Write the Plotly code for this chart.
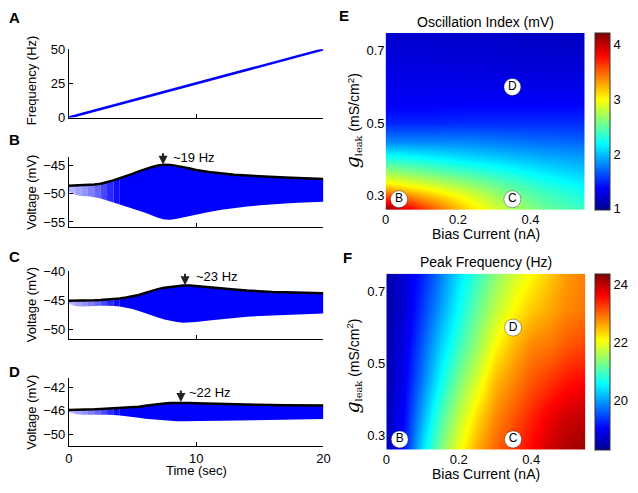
import plotly.graph_objects as go

W, H = 638, 493
FONT = "Arial, Liberation Sans, sans-serif"

# ---------------- data ----------------
# Panel A: stimulus frequency ramp
t_freq = [0, 20]
freq_hz = [0, 50]

# Panels B-D: voltage envelopes (mV)
t_env = [0, 0.5, 1, 1.5, 2, 2.5, 3, 3.5, 4, 4.5, 5, 5.5, 6, 6.5, 7, 7.5, 8, 8.5,
         9, 9.5, 10, 11, 12, 13, 14, 15, 16, 17, 18, 19, 20]

b_upper = [-48.55, -48.5, -48.5, -48.45, -48.35, -48.2, -47.95, -47.6, -47.2, -46.85,
           -46.45, -46.0, -45.6, -45.25, -44.95, -44.82, -44.85, -45.0, -45.25, -45.5,
           -45.75, -46.1, -46.4, -46.6, -46.75, -46.9, -47.0, -47.1, -47.2, -47.28, -47.35]
b_lower = [-49.6, -50.2, -50.4, -50.45, -50.6, -50.85, -51.2, -51.55, -51.9, -52.25,
           -52.6, -52.95, -53.35, -53.8, -54.25, -54.55, -54.6, -54.45, -54.2, -53.95,
           -53.7, -53.25, -52.85, -52.5, -52.25, -52.05, -51.85, -51.7, -51.6, -51.5, -51.4]

c_upper = [-45.1, -45.1, -45.08, -45.05, -45.0, -44.95, -44.9, -44.8, -44.7, -44.55,
           -44.35, -44.1, -43.75, -43.4, -43.1, -42.85, -42.7, -42.58, -42.5, -42.5,
           -42.58, -42.8, -43.0, -43.15, -43.35, -43.5, -43.6, -43.65, -43.7, -43.75, -43.8]
c_lower = [-45.6, -46.0, -46.1, -46.05, -46.0, -45.95, -45.95, -46.0, -46.1, -46.3,
           -46.5, -46.85, -47.25, -47.6, -47.95, -48.3, -48.55, -48.75, -48.85, -48.85,
           -48.75, -48.5, -48.25, -48.05, -47.85, -47.7, -47.6, -47.5, -47.42, -47.35, -47.3]

d_upper = [-45.85, -45.85, -45.82, -45.8, -45.75, -45.7, -45.65, -45.6, -45.55, -45.5,
           -45.42, -45.3, -45.12, -44.95, -44.83, -44.73, -44.68, -44.65, -44.65, -44.67,
           -44.7, -44.77, -44.85, -44.9, -44.95, -45.0, -45.02, -45.05, -45.07, -45.09, -45.1]
d_lower = [-46.2, -46.55, -46.65, -46.65, -46.65, -46.65, -46.68, -46.72, -46.8, -46.9,
           -47.05, -47.2, -47.35, -47.45, -47.58, -47.7, -47.75, -47.8, -47.8, -47.78,
           -47.75, -47.7, -47.63, -47.58, -47.53, -47.48, -47.45, -47.43, -47.42, -47.41, -47.4]

peak_labels = ["~19 Hz", "~23 Hz", "~22 Hz"]
peak_t = [7.4, 9.13, 8.8]
peak_v = [-44.83, -42.43, -44.5]

# Panel E: oscillation index (mV)
e_bias = [0, 0.11, 0.22, 0.33, 0.44, 0.55]
e_gleak = [0.26, 0.28, 0.30, 0.33, 0.36, 0.40, 0.45, 0.50, 0.55, 0.60, 0.65, 0.70, 0.75]
e_index = [
    [4.20, 3.65, 3.15, 2.80, 2.55, 2.38],
    [3.90, 3.45, 3.05, 2.72, 2.48, 2.32],
    [3.55, 3.22, 2.92, 2.62, 2.42, 2.27],
    [3.10, 2.90, 2.70, 2.48, 2.30, 2.17],
    [2.75, 2.60, 2.45, 2.30, 2.16, 2.05],
    [2.32, 2.22, 2.12, 2.04, 1.96, 1.90],
    [1.80, 1.80, 1.80, 1.76, 1.72, 1.70],
    [1.50, 1.50, 1.52, 1.52, 1.52, 1.52],
    [1.37, 1.37, 1.38, 1.38, 1.38, 1.39],
    [1.32, 1.32, 1.32, 1.31, 1.31, 1.31],
    [1.28, 1.28, 1.27, 1.26, 1.25, 1.25],
    [1.25, 1.24, 1.23, 1.22, 1.21, 1.20],
    [1.22, 1.21, 1.20, 1.19, 1.18, 1.17],
]

# Panel F: peak frequency (Hz)
f_bias = [0, 0.05, 0.10, 0.15, 0.20, 0.25, 0.30, 0.35, 0.40, 0.45, 0.50, 0.55]
f_gleak = [0.26, 0.35, 0.45, 0.55, 0.65, 0.75]
f_peak = [
    [18.6, 19.2, 20.4, 21.3, 22.0, 22.6, 23.0, 23.3, 23.6, 23.9, 24.1, 24.2],
    [18.6, 19.1, 20.1, 21.0, 21.7, 22.3, 22.8, 23.1, 23.4, 23.7, 23.9, 24.0],
    [18.5, 19.0, 19.8, 20.6, 21.3, 21.9, 22.5, 22.8, 23.1, 23.3, 23.5, 23.6],
    [18.5, 18.9, 19.6, 20.3, 20.9, 21.5, 22.1, 22.5, 22.8, 22.9, 23.1, 23.2],
    [18.45, 18.8, 19.4, 20.0, 20.6, 21.2, 21.7, 22.1, 22.4, 22.6, 22.8, 22.9],
    [18.45, 18.8, 19.25, 19.8, 20.4, 20.9, 21.4, 21.8, 22.1, 22.4, 22.7, 22.85],
]

marker_names = ["B", "C", "D"]
marker_bias = [0.037, 0.35, 0.35]
marker_gleak = [0.289, 0.289, 0.60]

# ---------------- helpers ----------------
def px(x):
    return x / W

def py(y):
    return 1 - y / H

jet = [[0, "rgb(0,0,143)"], [0.125, "rgb(0,0,255)"], [0.375, "rgb(0,255,255)"],
       [0.625, "rgb(255,255,0)"], [0.875, "rgb(255,0,0)"], [1, "rgb(128,0,0)"]]

fig = go.Figure()

# Panel A
fig.add_trace(go.Scatter(x=t_freq, y=freq_hz, mode="lines", xaxis="x", yaxis="y",
                         line=dict(color="#0000ff", width=2.5), cliponaxis=False,
                         showlegend=False, hoverinfo="skip"))

# Panels B-D (early low-frequency cycles drawn as a lighter, gradually denser band)
alphas = [0.3, 0.36, 0.42, 0.5, 0.6, 0.72, 0.84, 0.94, 1.0]
segments = [(i * 0.5, (i + 1) * 0.5, a) for i, a in enumerate(alphas[:-1])]
segments.append((len(alphas[:-1]) * 0.5, 20, 1.0))
for k, (up, lo) in enumerate([(b_upper, b_lower), (c_upper, c_lower), (d_upper, d_lower)]):
    xa, ya = "x%d" % (k + 2), "y%d" % (k + 2)
    for (s0, s1, alpha) in segments:
        idx = [i for i, t in enumerate(t_env) if s0 <= t <= s1]
        ts = [t_env[i] for i in idx]
        fig.add_trace(go.Scatter(x=ts, y=[lo[i] for i in idx], mode="lines", xaxis=xa, yaxis=ya,
                                 line=dict(width=0, color="#0000ff"), showlegend=False,
                                 hoverinfo="skip"))
        fig.add_trace(go.Scatter(x=ts, y=[up[i] for i in idx], mode="lines", xaxis=xa, yaxis=ya,
                                 line=dict(width=0, color="#0000ff"), fill="tonexty",
                                 fillcolor="rgba(0,0,255,%s)" % alpha, showlegend=False,
                                 hoverinfo="skip"))
    fig.add_trace(go.Scatter(x=t_env, y=up, mode="lines", xaxis=xa, yaxis=ya,
                             line=dict(color="black", width=2.5), showlegend=False,
                             hoverinfo="skip"))

cb_common = dict(x=px(601.7), xanchor="left", xpad=0, ypad=0, lenmode="fraction",
                 thickness=15, thicknessmode="pixels", outlinewidth=1, outlinecolor="#333",
                 ticks="", tickfont=dict(family=FONT, size=13, color="black"))

# Panel E heatmap
fig.add_trace(go.Heatmap(x=e_bias, y=e_gleak, z=e_index, xaxis="x5", yaxis="y5",
                         colorscale=jet, zmin=0.98, zmax=4.22, zsmooth="best",
                         hoverinfo="skip",
                         colorbar=dict(y=py((26.7 + 209) / 2), yanchor="middle",
                                       len=(209 - 26.7) / H, tickvals=[1, 2, 3, 4],
                                       **cb_common)))
# Panel F heatmap
fig.add_trace(go.Heatmap(x=f_bias, y=f_gleak, z=f_peak, xaxis="x6", yaxis="y6",
                         colorscale=jet, zmin=18.3, zmax=24.36, zsmooth="best",
                         hoverinfo="skip",
                         colorbar=dict(y=py((275 + 456.7) / 2), yanchor="middle",
                                       len=(456.7 - 275) / H, tickvals=[20, 22, 24],
                                       **cb_common)))

for xa, ya in [("x5", "y5"), ("x6", "y6")]:
    fig.add_trace(go.Scatter(x=marker_bias, y=marker_gleak, text=marker_names,
                             mode="markers+text", xaxis=xa, yaxis=ya,
                             textposition="middle center",
                             textfont=dict(family=FONT, size=12, color="black"),
                             marker=dict(size=17, color="white",
                                         line=dict(color="rgba(0,0,0,0.35)", width=1)),
                             showlegend=False, hoverinfo="skip"))

# ---------------- axes ----------------
tickfont = dict(family=FONT, size=13, color="black")
left_common = dict(showline=True, linecolor="black", linewidth=1, ticks="inside",
                   ticklen=4, tickcolor="black", zeroline=False, showgrid=False,
                   tickfont=tickfont, mirror=False)

left_dom_x = [px(66), px(325)]
left_y = [(43.7, 114, [0, 50], [0, 25, 50]),
          (155, 226.7, [-55.86, -43.5], [-55, -50, -45]),
          (272.3, 342.7, [-51.7, -40], [-50, -45, -40]),
          (382.7, 452.7, [-52, -40.4], [-50, -46, -42])]

layout = dict(width=W, height=H, margin=dict(l=0, r=0, t=0, b=0),
              paper_bgcolor="white", plot_bgcolor="white", showlegend=False,
              font=dict(family=FONT, size=13, color="black"))

for k, (top, bot, rng, tv) in enumerate(left_y):
    n = "" if k == 0 else str(k + 1)
    layout["xaxis" + n] = dict(domain=left_dom_x, anchor="y" + n, range=[0, 20],
                               tickvals=[0, 10, 20], showticklabels=(k == 3), **left_common)
    layout["yaxis" + n] = dict(domain=[py(bot), py(top)], anchor="x" + n, range=rng,
                               tickvals=tv, **left_common)

hm_common = dict(showline=False, ticks="", zeroline=False, showgrid=False, tickfont=tickfont)
layout["xaxis5"] = dict(domain=[px(388.3), px(591)], anchor="y5", range=[0, 0.55],
                        tickvals=[0, 0.2, 0.4], ticktext=["0", "0.2", "0.4"], **hm_common)
layout["yaxis5"] = dict(domain=[py(209), py(26.7)], anchor="x5", range=[0.26, 0.75],
                        tickvals=[0.3, 0.5, 0.7], **hm_common)
layout["xaxis6"] = dict(domain=[px(389), px(591.7)], anchor="y6", range=[0, 0.55],
                        tickvals=[0, 0.2, 0.4], ticktext=["0", "0.2", "0.4"], **hm_common)
layout["yaxis6"] = dict(domain=[py(456.7), py(275)], anchor="x6", range=[0.26, 0.75],
                        tickvals=[0.3, 0.5, 0.7], **hm_common)

fig.update_layout(**layout)

# ---------------- annotations ----------------
ann = []

def paper_text(x, y, text, size=13, angle=0, bold=False, xanchor="center"):
    if bold:
        text = "<b>%s</b>" % text
    ann.append(dict(x=px(x), y=py(y), xref="paper", yref="paper", text=text,
                    showarrow=False, textangle=angle, xanchor=xanchor, yanchor="middle",
                    font=dict(family=FONT, size=size, color="black")))

# panel letters
for letter, x, y in [("A", 11, 11), ("B", 11, 137), ("C", 11, 257), ("D", 11, 376),
                     ("E", 346, 9), ("F", 350, 258)]:
    paper_text(x, y, letter, size=15, bold=True)

# left axis titles
paper_text(28, 76, "Frequency (Hz)", angle=-90)
paper_text(28, 191, "Voltage (mV)", angle=-90)
paper_text(28, 307, "Voltage (mV)", angle=-90)
paper_text(28, 418, "Voltage (mV)", angle=-90)
paper_text(195.5, 478, "Time (sec)")

# heatmap titles
paper_text(490, 15, "Oscillation Index (mV)", size=14)
paper_text(490.7, 263, "Peak Frequency (Hz)", size=14)
paper_text(490, 234, "Bias Current (nA)", size=14)
paper_text(490.7, 482, "Bias Current (nA)", size=14)
glabel = ('<span style="font-family:DejaVu Serif;font-style:italic;font-size:19px">g</span>'
          '<sub><span style="font-family:DejaVu Serif">leak</span></sub> (mS/cm<sup>2</sup>)')
paper_text(355, 117, glabel, size=14, angle=-90)
paper_text(355, 370, glabel, size=14, angle=-90)

# peak arrows and labels
text_pos = [(8.05, -43.5), (9.83, -40.93), (9.32, -42.83)]
for k in range(3):
    xa, ya = "x%d" % (k + 2), "y%d" % (k + 2)
    ann.append(dict(x=peak_t[k], y=peak_v[k], xref=xa, yref=ya, text="", showarrow=True,
                    ax=0, ay=-13, arrowhead=2, arrowsize=0.9, arrowwidth=2,
                    arrowcolor="#222", standoff=0))
    ann.append(dict(x=text_pos[k][0], y=text_pos[k][1], xref=xa, yref=ya,
                    text=peak_labels[k], showarrow=False, xanchor="left", yanchor="middle",
                    font=dict(family=FONT, size=13, color="black")))

fig.update_layout(annotations=ann)

page_css = ("var s='margin:0;padding:0;overflow:hidden;width:638px;height:493px;';"
            "document.documentElement.style.cssText=s;document.body.style.cssText=s;")
fig.write_html("out.html", config={"displayModeBar": False, "staticPlot": True},
               post_script=page_css)
